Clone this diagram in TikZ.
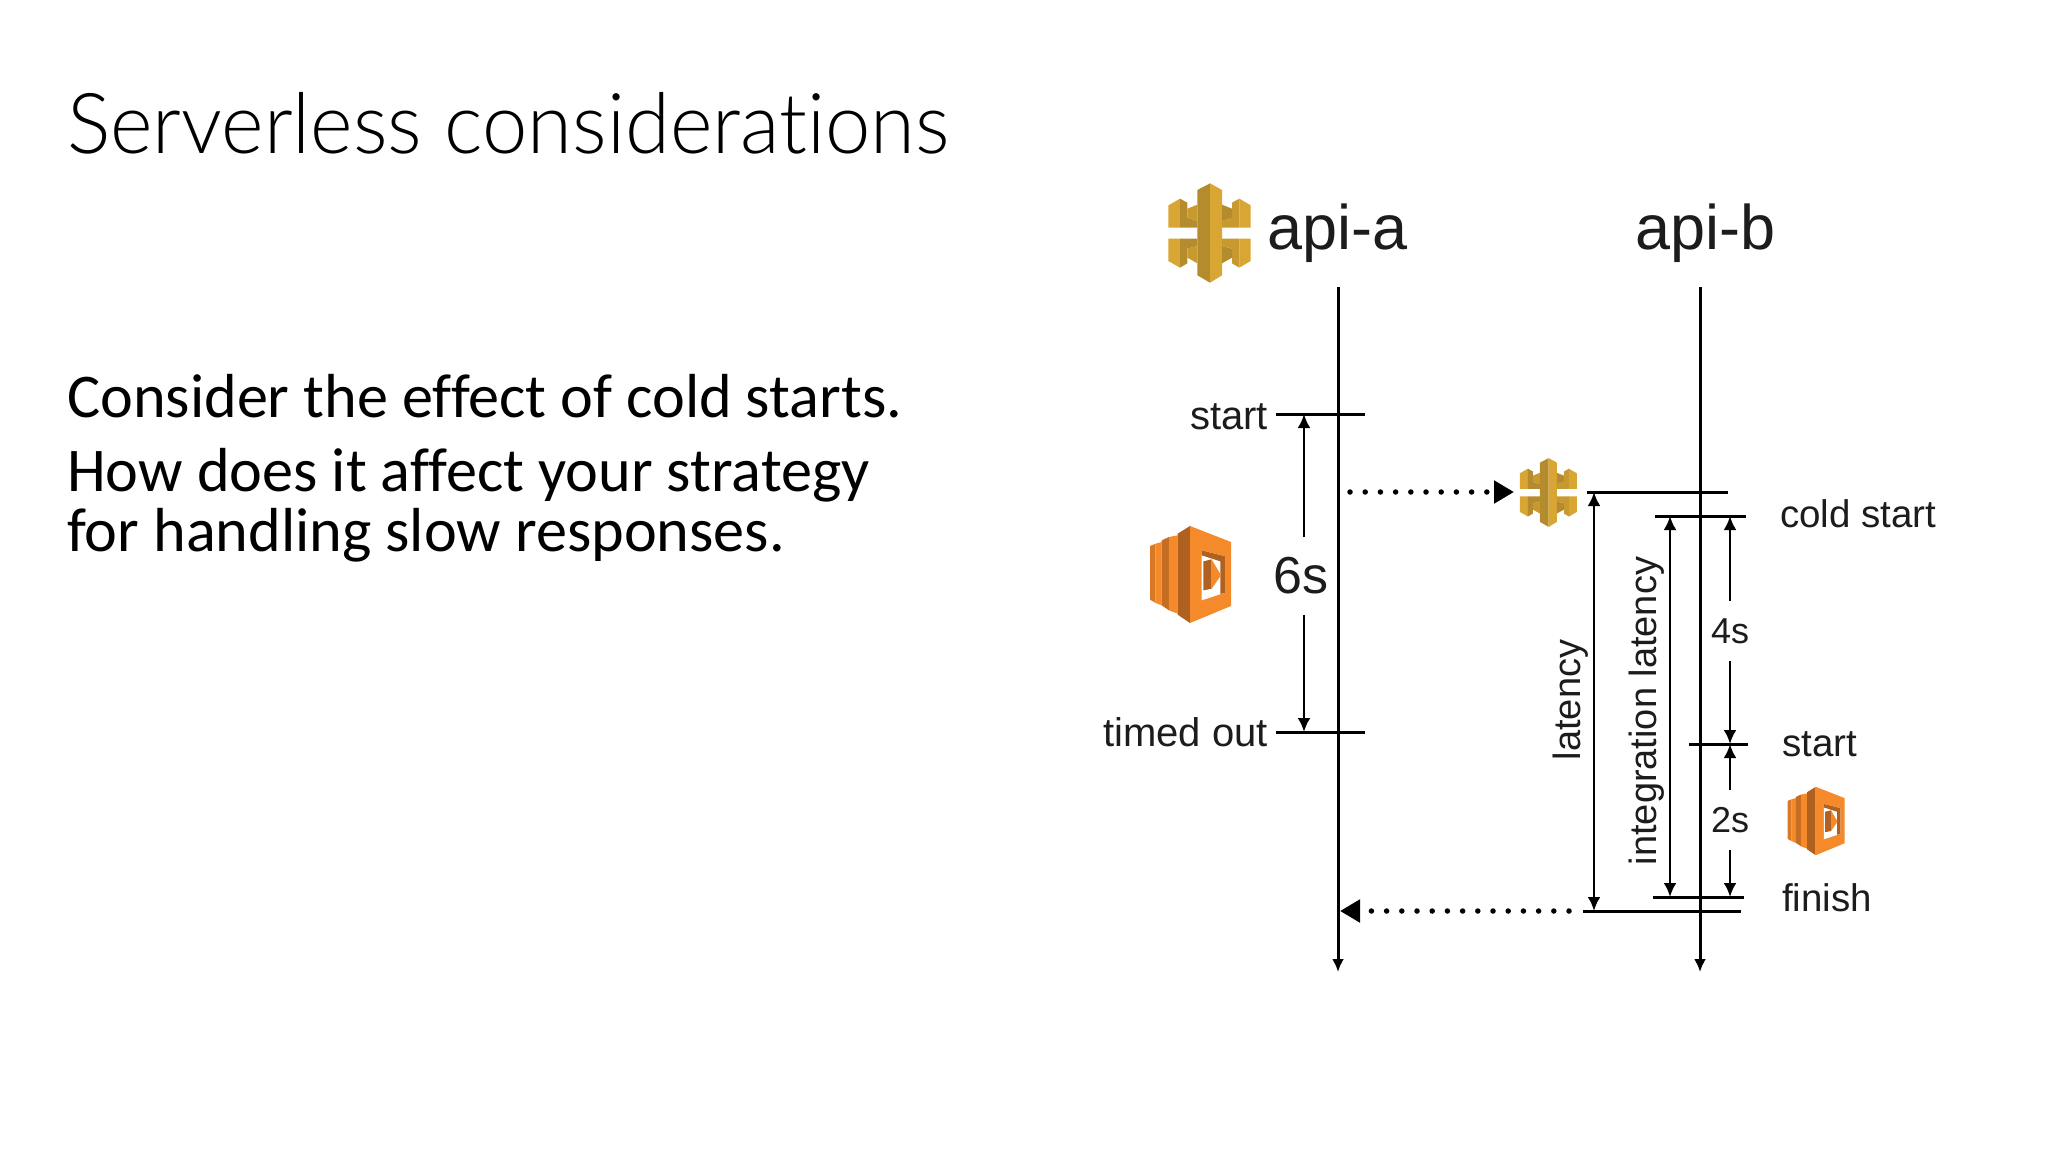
\documentclass[tikz,border=0pt]{standalone}
\usepackage{fontspec}
\setmainfont{Liberation Sans}
\newfontfamily\titlefont{Lato Light}[FakeStretch=0.969,Ligatures=NoCommon]
\newfontfamily\bodyfont{Carlito}[Ligatures=NoCommon]
\usetikzlibrary{positioning,arrows.meta,calc}

\definecolor{goldlight}{HTML}{D9A533}
\definecolor{golddark}{HTML}{B58C2D}
\definecolor{goldmid}{HTML}{C7992F}
\definecolor{orangelight}{HTML}{F58A2A}
\definecolor{orangedark}{HTML}{B0601F}
\definecolor{inkgray}{HTML}{1C1C1C}

\tikzset{
  apiicon/.pic={
    % centre column
    \fill[golddark] (112,42) -- (150,22) -- (150,320) -- (112,298) -- cycle;
    \fill[goldlight] (150,22) -- (186,42) -- (186,298) -- (150,320) -- cycle;
    % upper brackets
    \fill[goldlight] (25,88) -- (60,68) -- (60,155) -- (25,155) -- cycle;
    \fill[golddark] (60,68) -- (82,80) -- (82,125) -- (112,135) -- (112,155) -- (60,155) -- cycle;
    \fill[goldmid] (82,98) -- (112,86) -- (112,135) -- (82,125) -- cycle;
    \fill[goldlight] (238,68) -- (272,88) -- (272,155) -- (238,155) -- cycle;
    \fill[goldmid] (238,68) -- (216,80) -- (216,125) -- (186,135) -- (186,155) -- (238,155) -- cycle;
    \fill[golddark] (216,98) -- (186,86) -- (186,135) -- (216,125) -- cycle;
    % lower brackets
    \fill[goldlight] (25,188) -- (60,188) -- (60,275) -- (25,255) -- cycle;
    \fill[golddark] (60,188) -- (112,188) -- (112,210) -- (82,218) -- (82,262) -- (60,275) -- cycle;
    \fill[goldmid] (82,218) -- (112,210) -- (112,262) -- (82,245) -- cycle;
    \fill[goldlight] (238,188) -- (272,188) -- (272,255) -- (238,275) -- cycle;
    \fill[goldmid] (186,188) -- (238,188) -- (238,275) -- (216,262) -- (216,218) -- (186,210) -- cycle;
    \fill[golddark] (216,218) -- (186,210) -- (186,262) -- (216,245) -- cycle;
  },
  lambdaicon/.pic={
    % back slabs
    \fill[orangedark!40!orangelight] (15,72) -- (32,65) -- (32,243) -- (15,233) -- cycle;
    \fill[orangelight] (32,65) -- (50,60) -- (50,250) -- (32,243) -- cycle;
    \fill[orangedark!70!orangelight] (50,55) -- (72,45) -- (72,265) -- (50,250) -- cycle;
    \fill[orangelight] (72,45) -- (98,40) -- (98,275) -- (72,265) -- cycle;
    % front slab
    \fill[orangedark] (98,35) -- (135,12) -- (135,303) -- (98,278) -- cycle;
    \fill[orangelight] (135,12) -- (258,60) -- (258,252) -- (135,303) -- cycle;
    % window
    \fill[white] (170,85) -- (240,103) -- (240,212) -- (170,235) -- cycle;
    \fill[orangedark] (170,85) -- (240,103) -- (240,212) -- (226,216) -- (226,118) -- (170,100) -- cycle;
    \fill[orangedark] (175,118) -- (200,112) -- (200,200) -- (175,205) -- cycle;
    \fill[orangelight] (200,112) -- (228,160) -- (200,200) -- cycle;
  }
}

\begin{document}
\begin{tikzpicture}[
  x=1pt, y=-1pt,
  lifeline/.style={-{Latex[length=13pt,width=12pt]}, line width=3pt},
  tick/.style={line width=3pt},
  dim/.style={-{Latex[length=14pt,width=13pt]}, line width=2.8pt},
  dots/.style={-{Triangle[length=20pt,width=22pt]}, line width=5.5pt, line cap=round, dash pattern=on 0pt off 15.2pt},
  lbl/.style={font=\fontsize{40}{40}\selectfont, inner sep=0pt, text=inkgray},
  gaplbl/.style={inner sep=0pt, text=inkgray}
]
\useasboundingbox (0,0) rectangle (2048,1152);

% slide text
\node[anchor=base west, inner sep=0pt, font=\titlefont\fontsize{84}{84}\selectfont] (title) at (67,153) {Serverless considerations};
\node[anchor=base west, inner sep=0pt, font=\bodyfont\fontsize{62.2}{62.2}\selectfont] (line1) at (67,417) {Consider the effect of cold starts.};
\node[anchor=base west, inner sep=0pt, font=\bodyfont\fontsize{62.2}{62.2}\selectfont] (line2) at (67,491) {How does it affect your strategy};
\node[anchor=base west, inner sep=0pt, font=\bodyfont\fontsize{62.2}{62.2}\selectfont] (line3) at (67,551) {for handling slow responses.};

% headers
\node[lbl, anchor=base west, font=\fontsize{63}{63}\selectfont] (apia) at (1267,249) {api-a};
\node[lbl, anchor=base west, font=\fontsize{63}{63}\selectfont] (apib) at (1635,249) {api-b};

% icons
\pic[scale=1/3] at (1160,176) {apiicon};
\pic[scale=0.231] at (1514,453) {apiicon};
\pic[scale=1/3] at (1145,522) {lambdaicon};
\pic[scale=0.235] at (1784,784) {lambdaicon};

% lifelines
\coordinate (atop) at (1338,287);
\coordinate (abot) at (1338,972);
\coordinate (btop) at (1700,287);
\coordinate (bbot) at (1700,972);
\draw[lifeline] (atop) -- (abot);
\draw[lifeline] (btop) -- (bbot);

% ticks on api-a
\coordinate (as1) at (1276,414);
\coordinate (as2) at (1365,414);
\coordinate (at1) at (1276,732);
\coordinate (at2) at (1365,732);
\draw[tick] (as1) -- (as2);
\draw[tick] (at1) -- (at2);
\node[lbl, anchor=base east] (astart) at (1268,429) {start};
\node[lbl, anchor=base east] (atimed) at (1268,746) {timed out};

% ticks on api-b
\coordinate (c1a) at (1587,492);
\coordinate (c1b) at (1728,492);
\coordinate (c2a) at (1655,516);
\coordinate (c2b) at (1746,516);
\coordinate (s1) at (1689,744);
\coordinate (s2) at (1748,744);
\coordinate (f1) at (1653,897);
\coordinate (f2) at (1744,897);
\coordinate (r1) at (1583,911);
\coordinate (r2) at (1741,911);
\draw[tick] (c1a) -- (c1b);
\draw[tick] (c2a) -- (c2b);
\draw[tick] (s1) -- (s2);
\draw[tick] (f1) -- (f2);
\draw[tick] (r1) -- (r2);
\node[lbl, anchor=base west, font=\fontsize{38.5}{38.5}\selectfont] (cold) at (1780,527) {cold start};
\node[lbl, anchor=base west, font=\fontsize{38.5}{38.5}\selectfont] (bstart) at (1782,756) {start};
\node[lbl, anchor=base west, font=\fontsize{38.5}{38.5}\selectfont] (finish) at (1782,911) {finish};

% durations
\node[gaplbl, minimum height=77pt, font=\fontsize{52}{52}\selectfont] (six) at (1301,576) {6s};
\coordinate (sixx) at (1304,575);
\draw[dim] (sixx |- six.north) -- (sixx |- as1);
\draw[dim] (sixx |- six.south) -- (sixx |- at1);
\node[gaplbl, minimum height=60pt, font=\fontsize{36}{36}\selectfont] (four) at (1730,631) {4s};
\draw[dim] (four.north) -- (four |- c2a);
\draw[dim] (four.south) -- (four |- s1);
\node[gaplbl, minimum height=59pt, font=\fontsize{36}{36}\selectfont] (two) at (1730,820) {2s};
\draw[dim] (two.north) -- (two |- s1);
\draw[dim] (two.south) -- (two |- f1);

% latency arrows
\coordinate (lat) at (1594,700);
\coordinate (intl) at (1670,700);
\draw[dim, <->, >={Latex[length=14pt,width=13pt]}] (lat |- c1a) -- (lat |- r1);
\draw[dim, <->, >={Latex[length=14pt,width=13pt]}] (intl |- c2a) -- (intl |- f1);
\node[lbl, anchor=base, rotate=90, font=\fontsize{38}{38}\selectfont] (latl) at (1580,700) {latency};
\node[lbl, anchor=base, rotate=90, font=\fontsize{38}{38}\selectfont] (intlat) at (1656,711) {integration latency};

% calls
\coordinate (d1) at (1350,492);
\coordinate (d2) at (1514,492);
\coordinate (d3) at (1569,911);
\coordinate (d4) at (1340,911);
\draw[dots] (d1) -- (d2);
\draw[dots] (d3) -- (d4);
\end{tikzpicture}
\end{document}
